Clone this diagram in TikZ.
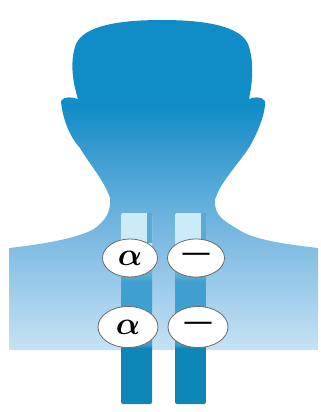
\RequirePackage{fix-cm}
\documentclass[tikz,border=0pt]{standalone}
\usepackage{bm}
\usepackage{fontspec}
\newfontfamily\dashfont{DejaVu Sans}
\usetikzlibrary{shapes.geometric,positioning,calc}
\definecolor{headblue}{HTML}{108DC6}
\definecolor{jawblue}{HTML}{3A9BD0}
\definecolor{neckblue}{HTML}{5DADDB}
\definecolor{shoulderblue}{HTML}{7CBAE2}
\definecolor{chestblue}{HTML}{C6E2F4}
\definecolor{barlight}{HTML}{CCEAF8}
\definecolor{barmid}{HTML}{3F9FCF}
\definecolor{bardark}{HTML}{0F86B8}
\definecolor{barstripe}{HTML}{5AAAD3}
\definecolor{ovalline}{HTML}{6A6A6A}
% silhouette: pale chest, dark head
\pgfdeclareverticalshading{bodyshade}{100bp}{color(0bp)=(chestblue); color(25bp)=(chestblue);
  color(42bp)=(shoulderblue); color(48bp)=(neckblue); color(55bp)=(jawblue);
  color(62bp)=(headblue); color(100bp)=(headblue)}
% columns: pale on top, deep below the chest
\pgfdeclareverticalshading{barshade}{100bp}{color(0bp)=(bardark); color(25bp)=(bardark);
  color(39.6bp)=(bardark); color(40.6bp)=(barmid); color(57bp)=(barmid);
  color(66.7bp)=(barlight); color(100bp)=(barlight)}
\def\barwidth{31}
\def\barlength{191}
\def\ovalheight{38pt}

\begin{document}
\begin{tikzpicture}[x=1pt,y=-1pt,
  oval/.style={ellipse,draw=ovalline,fill=white,line width=0.8pt,inner sep=0pt,minimum height=\ovalheight},
  alphatext/.style={font=\fontsize{32}{32}\selectfont},
  dashtext/.style={font=\dashfont\fontsize{30}{30}\selectfont}]
  \useasboundingbox (0,0) rectangle (321,412);

  % head, neck and shoulders
  \path[shading=bodyshade] (9,248) -- (9,350) -- (318,350) -- (318,248)
    .. controls (285,244) and (252,240) .. (236,228)
    .. controls (222,220) and (214,214) .. (215,200)
    .. controls (220,182) and (238,165) .. (250,146)
    .. controls (258,132) and (266,112) .. (265,101)
    .. controls (261,96) and (254,97) .. (249,99)
    .. controls (253,80) and (254,60) .. (248,44)
    .. controls (240,26) and (205,20) .. (162,20)
    .. controls (118,20) and (84,26) .. (76,44)
    .. controls (70,60) and (72,80) .. (78,99)
    .. controls (72,97) and (64,96) .. (61,101)
    .. controls (62,115) and (68,135) .. (80,148)
    .. controls (88,162) and (104,180) .. (110,198)
    .. controls (111,212) and (106,220) .. (94,229)
    .. controls (78,238) and (45,244) .. (9,248) -- cycle;

  % the two columns
  \coordinate (LB) at (121,213);
  \coordinate (RB) at (175,213);
  \path[shading=barshade,rounded corners=2pt] (LB) rectangle ++(\barwidth,\barlength);
  \path[shading=barshade,rounded corners=2pt] (RB) rectangle ++(\barwidth,\barlength);
  \fill[barstripe] ($(LB)+(\barwidth-5,0)$) rectangle ++(5,30);
  \fill[barstripe] ($(RB)+(\barwidth-5,0)$) rectangle ++(5,30);

  % subunits
  \node[oval,minimum width=55pt] (A1) at (130,258) {};
  \node[alphatext] (A1-text) at (A1) {$\bm{\alpha}$};
  \node[oval,minimum width=57pt] (D1) at (196,258) {};
  \node[dashtext] (D1-text) at (D1) {—};
  \node[oval,minimum width=60pt,minimum height=41pt] (A2) at (128,327) {};
  \node[alphatext] (A2-text) at (A2) {$\bm{\alpha}$};
  \node[oval,minimum width=60pt,minimum height=41pt] (D2) at (198,327) {};
  \node[dashtext] (D2-text) at (D2) {—};

\end{tikzpicture}
\end{document}
